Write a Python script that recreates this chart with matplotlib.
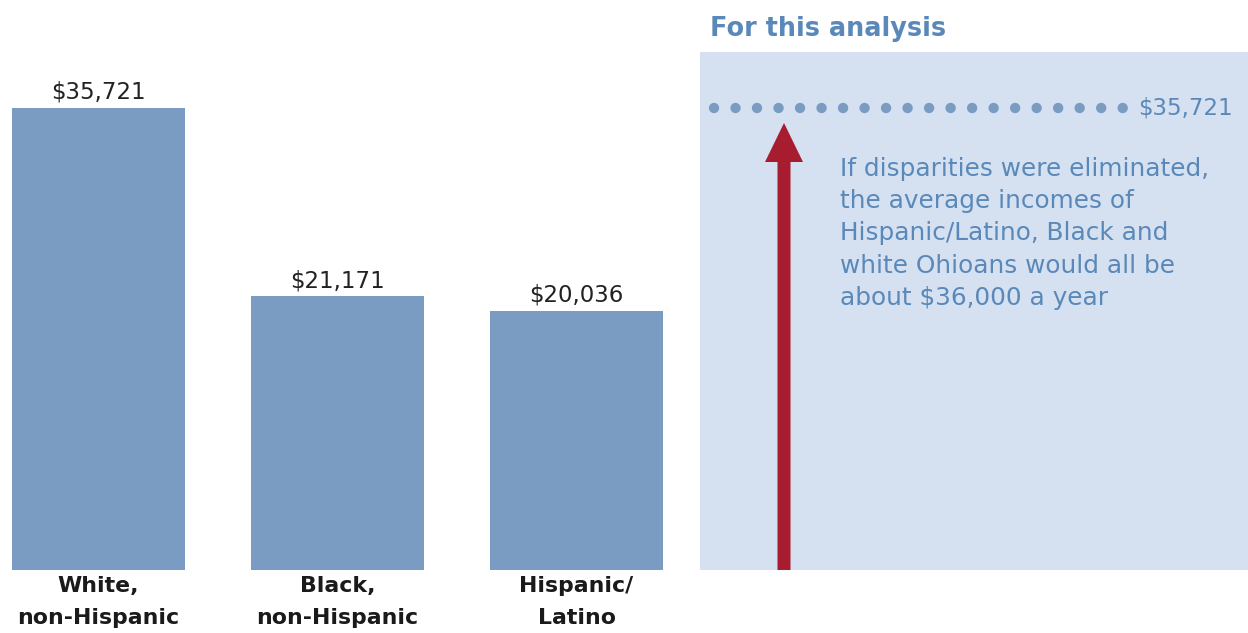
import matplotlib
matplotlib.use("Agg")
import matplotlib.pyplot as plt
from matplotlib.patches import FancyArrow

plt.rcParams['font.family'] = ['DejaVu Sans']

categories = ["White,\nnon-Hispanic", "Black,\nnon-Hispanic", "Hispanic/\nLatino"]
incomes = [35721, 21171, 20036]
target_value = 35721
value_labels = ["$35,721", "$21,171", "$20,036"]
panel_title = "For this analysis"
panel_text = ("If disparities were eliminated,\nthe average incomes of\n"
              "Hispanic/Latino, Black and\nwhite Ohioans would all be\n"
              "about $36,000 a year")

W, H = 1248, 633
fig = plt.figure(figsize=(W / 100, H / 100), dpi=100)

bar_color = "#7a9cc3"
panel_color = "#d5e0f1"
blue_text = "#5a89b9"
red = "#a81c2f"

# pixel geometry
y_bottom, y_top = 570, 52
ymax = target_value * (y_bottom - y_top) / (y_bottom - 108)

ax = fig.add_axes([0, (H - y_bottom) / H, 700 / W, (y_bottom - y_top) / H])
spacing = 239.0
x0 = 98.5
ax.set_xlim(-x0 / spacing, (700 - x0) / spacing)
ax.set_ylim(0, ymax)
pos = list(range(len(categories)))
ax.bar(pos, incomes, width=173 / spacing, color=bar_color)
for p, v, lab in zip(pos, incomes, value_labels):
    ax.annotate(lab, (p, v), xytext=(0, 3), textcoords="offset points",
                ha="center", va="bottom", fontsize=16.5, color="#222222")
ax.set_xticks(pos)
ax.set_xticklabels(categories, fontsize=15.8, fontweight="bold", color="#1a1a1a",
                   linespacing=1.8)
ax.tick_params(axis="x", length=0, pad=4)
ax.set_yticks([])
for s in ax.spines.values():
    s.set_visible(False)
ax.patch.set_alpha(0)

# right panel
pax = fig.add_axes([700 / W, (H - y_bottom) / H, 548 / W, (y_bottom - y_top) / H])
pax.set_facecolor(panel_color)
pax.set_xlim(0, 548)
pax.set_ylim(0, ymax)
pax.set_xticks([])
pax.set_yticks([])
for s in pax.spines.values():
    s.set_visible(False)

pax.plot([14, 424], [target_value, target_value], color="#7a9cc3",
         linewidth=7.5, linestyle=(0, (0.001, 2.064)), dash_capstyle="round")
pax.text(438, target_value, value_labels[0], ha="left", va="center",
         fontsize=16.5, color=blue_text)

px_per_val = (y_bottom - y_top) / ymax
tip = target_value - 15 / px_per_val
head_len = 39 / px_per_val
arrow_x = 84
pax.add_patch(FancyArrow(arrow_x, 0, 0, tip, width=13, head_width=38,
                         head_length=head_len, length_includes_head=True,
                         color=red, linewidth=0))

pax.text(140, target_value - 49 / px_per_val, panel_text, ha="left", va="top",
         fontsize=17.8, color=blue_text, linespacing=1.43)

fig.text(710 / W, 1 - 29 / H, panel_title, ha="left", va="center",
         fontsize=18.4, fontweight="bold", color=blue_text)

fig.savefig("out.png", dpi=100)
